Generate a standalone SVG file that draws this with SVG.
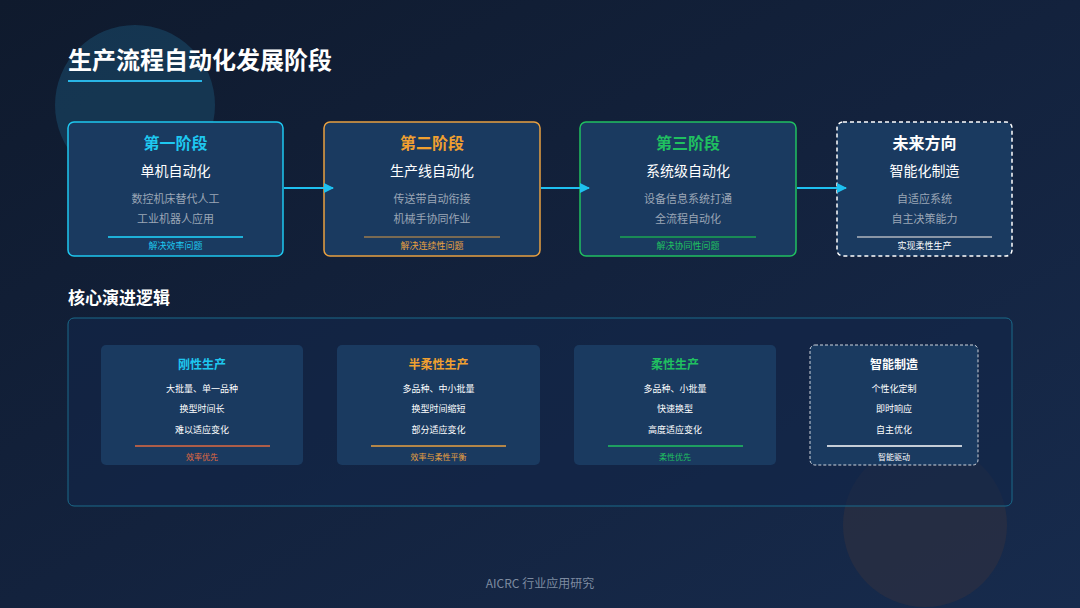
<svg xmlns="http://www.w3.org/2000/svg" width="1080" height="608" viewBox="0 0 1080 608">
<defs>
<linearGradient id="bg" x1="0" y1="0" x2="1" y2="1">
<stop offset="0" stop-color="#0f1a2d"/>
<stop offset="0.5" stop-color="#13223d"/>
<stop offset="1" stop-color="#172b4d"/>
</linearGradient>
<marker id="ah" viewBox="0 0 10 10" refX="9" refY="5" markerWidth="5" markerHeight="5" orient="auto" markerUnits="strokeWidth">
<path d="M0,0 L10,5 L0,10 z" fill="#1ec0f0"/>
</marker>
<style>
text{font-family:"Noto Sans CJK SC","Liberation Sans",sans-serif;text-anchor:middle}
.card{fill:#1a3a60}
.t1{font-size:16px;font-weight:bold}
.t2{font-size:14px;fill:#ffffff}
.it{font-size:11px;fill:#9aa6b6}
.ft{font-size:9px}
.ct{font-size:12px;font-weight:bold}
.ci{font-size:9px;fill:#ffffff}
.cf{font-size:8px}
</style>
</defs>
<rect width="1080" height="608" fill="url(#bg)"/>
<circle cx="135" cy="105" r="80" fill="#173f5c" opacity="0.75"/>
<circle cx="925" cy="525" r="82" fill="#2e3040" opacity="0.65"/>

<text x="68" y="69" style="font-size:24px;font-weight:bold;text-anchor:start" fill="#ffffff">生产流程自动化发展阶段</text>
<line x1="68" y1="81" x2="202" y2="81" stroke="#29b6e6" stroke-width="2"/>

<g id="stage1">
<rect class="card" x="68" y="122" width="215" height="134" rx="6" stroke="#1ec8f0" stroke-width="1.5"/>
<text x="175.5" y="149" class="t1" fill="#1ec8f0">第一阶段</text>
<text x="175.5" y="176" class="t2">单机自动化</text>
<text x="175.5" y="203" class="it">数控机床替代人工</text>
<text x="175.5" y="223" class="it">工业机器人应用</text>
<line x1="108" y1="237" x2="243" y2="237" stroke="#1eb0d8" stroke-width="2"/>
<text x="175.5" y="249" class="ft" fill="#1ec8f0">解决效率问题</text>
</g>
<g id="stage2">
<rect class="card" x="324" y="122" width="216" height="134" rx="6" stroke="#e8a040" stroke-width="1.5"/>
<text x="432" y="149" class="t1" fill="#f0a030">第二阶段</text>
<text x="432" y="176" class="t2">生产线自动化</text>
<text x="432" y="203" class="it">传送带自动衔接</text>
<text x="432" y="223" class="it">机械手协同作业</text>
<line x1="364" y1="237" x2="500" y2="237" stroke="#7a6a52" stroke-width="2"/>
<text x="432" y="249" class="ft" fill="#e8a040">解决连续性问题</text>
</g>
<g id="stage3">
<rect class="card" x="580" y="122" width="216" height="134" rx="6" stroke="#20c060" stroke-width="1.5"/>
<text x="688" y="149" class="t1" fill="#20c060">第三阶段</text>
<text x="688" y="176" class="t2">系统级自动化</text>
<text x="688" y="203" class="it">设备信息系统打通</text>
<text x="688" y="223" class="it">全流程自动化</text>
<line x1="620" y1="237" x2="756" y2="237" stroke="#1a8a55" stroke-width="2"/>
<text x="688" y="249" class="ft" fill="#20c060">解决协同性问题</text>
</g>
<g id="stage4">
<rect class="card" x="837" y="122" width="175" height="134" rx="6" stroke="#ffffff" stroke-width="1.5" stroke-dasharray="4,3"/>
<text x="924.5" y="149" class="t1" fill="#ffffff">未来方向</text>
<text x="924.5" y="176" class="t2">智能化制造</text>
<text x="924.5" y="203" class="it">自适应系统</text>
<text x="924.5" y="223" class="it">自主决策能力</text>
<line x1="857" y1="237" x2="992" y2="237" stroke="#8a96a6" stroke-width="2"/>
<text x="924.5" y="249" class="ft" fill="#ffffff">实现柔性生产</text>
</g>

<g id="connectors">
<line x1="284" y1="188" x2="333" y2="188" stroke="#1ec0f0" stroke-width="2" marker-end="url(#ah)"/>
<line x1="541" y1="188" x2="589" y2="188" stroke="#1ec0f0" stroke-width="2" marker-end="url(#ah)"/>
<line x1="797" y1="188" x2="846" y2="188" stroke="#1ec0f0" stroke-width="2" marker-end="url(#ah)"/>
</g>

<text x="68" y="304" style="font-size:17px;font-weight:bold;text-anchor:start" fill="#ffffff">核心演进逻辑</text>
<rect x="68" y="318" width="944" height="188" rx="6" fill="#13264a" fill-opacity="0.6" stroke="#1a6a8a" stroke-width="1"/>

<g id="logic1">
<rect class="card" x="101" y="345" width="202" height="120" rx="5"/>
<text x="202" y="369" class="ct" fill="#1ec8f0">刚性生产</text>
<text x="202" y="392" class="ci">大批量、单一品种</text>
<text x="202" y="412" class="ci">换型时间长</text>
<text x="202" y="433" class="ci">难以适应变化</text>
<line x1="135" y1="446" x2="270" y2="446" stroke="#e06a40" stroke-width="1.5"/>
<text x="202" y="460" class="cf" fill="#e06a40">效率优先</text>
</g>
<g id="logic2">
<rect class="card" x="337" y="345" width="203" height="120" rx="5"/>
<text x="438.5" y="369" class="ct" fill="#f0a030">半柔性生产</text>
<text x="438.5" y="392" class="ci">多品种、中小批量</text>
<text x="438.5" y="412" class="ci">换型时间缩短</text>
<text x="438.5" y="433" class="ci">部分适应变化</text>
<line x1="371" y1="446" x2="506" y2="446" stroke="#e8a040" stroke-width="1.5"/>
<text x="438.5" y="460" class="cf" fill="#e8a040">效率与柔性平衡</text>
</g>
<g id="logic3">
<rect class="card" x="574" y="345" width="202" height="120" rx="5"/>
<text x="675" y="369" class="ct" fill="#20c060">柔性生产</text>
<text x="675" y="392" class="ci">多品种、小批量</text>
<text x="675" y="412" class="ci">快速换型</text>
<text x="675" y="433" class="ci">高度适应变化</text>
<line x1="608" y1="446" x2="743" y2="446" stroke="#20c060" stroke-width="1.5"/>
<text x="675" y="460" class="cf" fill="#20c060">柔性优先</text>
</g>
<g id="logic4">
<rect class="card" x="810" y="345" width="168" height="120" rx="5" stroke="#ffffff" stroke-width="1" stroke-dasharray="3,2" stroke-opacity="0.8"/>
<text x="894" y="369" class="ct" fill="#ffffff">智能制造</text>
<text x="894" y="392" class="ci">个性化定制</text>
<text x="894" y="412" class="ci">即时响应</text>
<text x="894" y="433" class="ci">自主优化</text>
<line x1="827" y1="446" x2="962" y2="446" stroke="#ffffff" stroke-width="1.5"/>
<text x="894" y="460" class="cf" fill="#ffffff">智能驱动</text>
</g>

<text x="540" y="588" style="font-size:12px" fill="#7d8ba0">AICRC 行业应用研究</text>
</svg>
